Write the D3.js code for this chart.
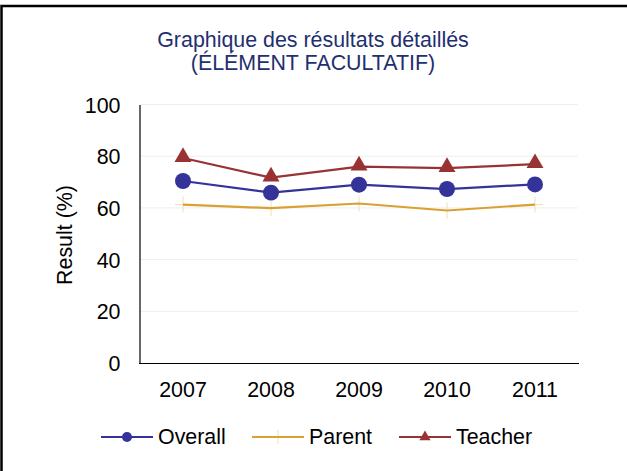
<!DOCTYPE html>
<html>
<head>
<meta charset="utf-8">
<script src="https://cdn.jsdelivr.net/npm/d3@7"></script>
<style>
  body { margin: 0; background: #fff; }
  text { font-family: "Liberation Sans", Arial, sans-serif; }
</style>
</head>
<body>
<div id="chart"></div>
<script>
// chart data
var years = ["2007", "2008", "2009", "2010", "2011"];
var overall = [70.4, 65.9, 69.0, 67.3, 69.1];
var parent = [61.3, 59.9, 61.7, 59.0, 61.3];
var teacher = [79.3, 71.7, 76.0, 75.4, 76.9];
var yTicks = [0, 20, 40, 60, 80, 100];

var Series = [
	{name: "Overall", values: overall, color: "#333399", marker: "circle"},
	{name: "Parent", values: parent, color: "#D9A032", marker: "plus"},
	{name: "Teacher", values: teacher, color: "#993333", marker: "triangle"}
];

var W = 627, H = 471, FS = "21.4px";
var svg = d3.select("#chart").append("svg").attr("width", W).attr("height", H);

// frame
svg.append("path").attr("d", "M1.5,471 V6 H627").attr("fill", "none").attr("stroke", "#000").attr("stroke-width", 2.5);

// title
var title = svg.append("text").attr("text-anchor", "middle")
	.attr("fill", "#1F2F70").style("font-size", FS);
title.append("tspan").attr("x", 313).attr("y", 46.5).text("Graphique des résultats détaillés");
title.append("tspan").attr("x", 313).attr("y", 70).text("(ÉLÉMENT FACULTATIF)");

var x = d3.scaleBand().domain(years).range([139, 579]);
var y = d3.scaleLinear().domain([0, 100]).range([363, 104.5]);

// gridlines
svg.append("g").selectAll("line").data(yTicks.filter(function(d) {return d > 0;}))
	.enter().append("line")
	.attr("x1", 140).attr("x2", 578)
	.attr("y1", function(d) {return y(d);}).attr("y2", function(d) {return y(d);})
	.attr("stroke", "#eeeeee").attr("stroke-width", 1);

// axes
var yAxis = svg.append("g").attr("transform", "translate(139.5,0)")
	.call(d3.axisLeft(y).tickValues(yTicks).tickSize(0).tickPadding(19));
yAxis.select(".domain").attr("stroke", "#000").attr("stroke-width", 1.2);
yAxis.selectAll("text").style("font-size", FS).attr("fill", "#000").attr("dy", "0.35em");

var xAxis = svg.append("g").attr("transform", "translate(0,363.5)")
	.call(d3.axisBottom(x).tickSize(0).tickPadding(18.5));
xAxis.select(".domain").attr("d", "M139,0H579").attr("stroke", "#000").attr("stroke-width", 1.2);
xAxis.selectAll("text").style("font-size", FS).attr("fill", "#000");

svg.append("text").attr("transform", "translate(72,235) rotate(-90)")
	.attr("text-anchor", "middle").style("font-size", FS).text("Result (%)");

var line = d3.line()
	.x(function(d, i) {return x(years[i]) + x.bandwidth() / 2;})
	.y(function(d) {return y(d);});

function DrawMarker(g, kind, color, cx, cy, big) {
	if (kind === "circle") {
		g.append("circle").attr("cx", cx).attr("cy", cy).attr("r", big ? 8 : 5).attr("fill", color);
	} else if (kind === "triangle") {
		g.append("path").attr("d", d3.symbol().type(d3.symbolTriangle).size(big ? 125 : 55)())
			.attr("transform", "translate(" + cx + "," + (cy - (big ? 1 : 0)) + ")").attr("fill", color);
	} else {
		var s = big ? 8 : 7;
		g.append("path").attr("d", "M" + (cx - s) + "," + cy + "H" + (cx + s) + "M" + cx + "," + (cy - s) + "V" + (cy + s))
			.attr("stroke", "#F3DDB0").attr("stroke-width", 1);
	}
}

Series.forEach(function(s) {
	var g = svg.append("g");
	if (s.marker === "plus") {
		s.values.forEach(function(v, i) {DrawMarker(g, s.marker, s.color, x(years[i]) + x.bandwidth() / 2, y(v), true);});
	}
	g.append("path").datum(s.values).attr("d", line)
		.attr("fill", "none").attr("stroke", s.color).attr("stroke-width", 2.2);
	if (s.marker !== "plus") {
		s.values.forEach(function(v, i) {DrawMarker(g, s.marker, s.color, x(years[i]) + x.bandwidth() / 2, y(v), true);});
	}
});

// legend
var legendX = [101, 252, 399];
Series.forEach(function(s, i) {
	var g = svg.append("g");
	var lx = legendX[i], ly = 437;
	if (s.marker === "plus") DrawMarker(g, s.marker, s.color, lx + 26, ly, false);
	g.append("line").attr("x1", lx).attr("x2", lx + 52).attr("y1", ly).attr("y2", ly)
		.attr("stroke", s.color).attr("stroke-width", 2.2);
	if (s.marker !== "plus") DrawMarker(g, s.marker, s.color, lx + 26, ly, false);
	g.append("text").attr("x", lx + 57).attr("y", ly).attr("dy", "0.35em")
		.style("font-size", FS).text(s.name);
});
</script>
</body>
</html>
